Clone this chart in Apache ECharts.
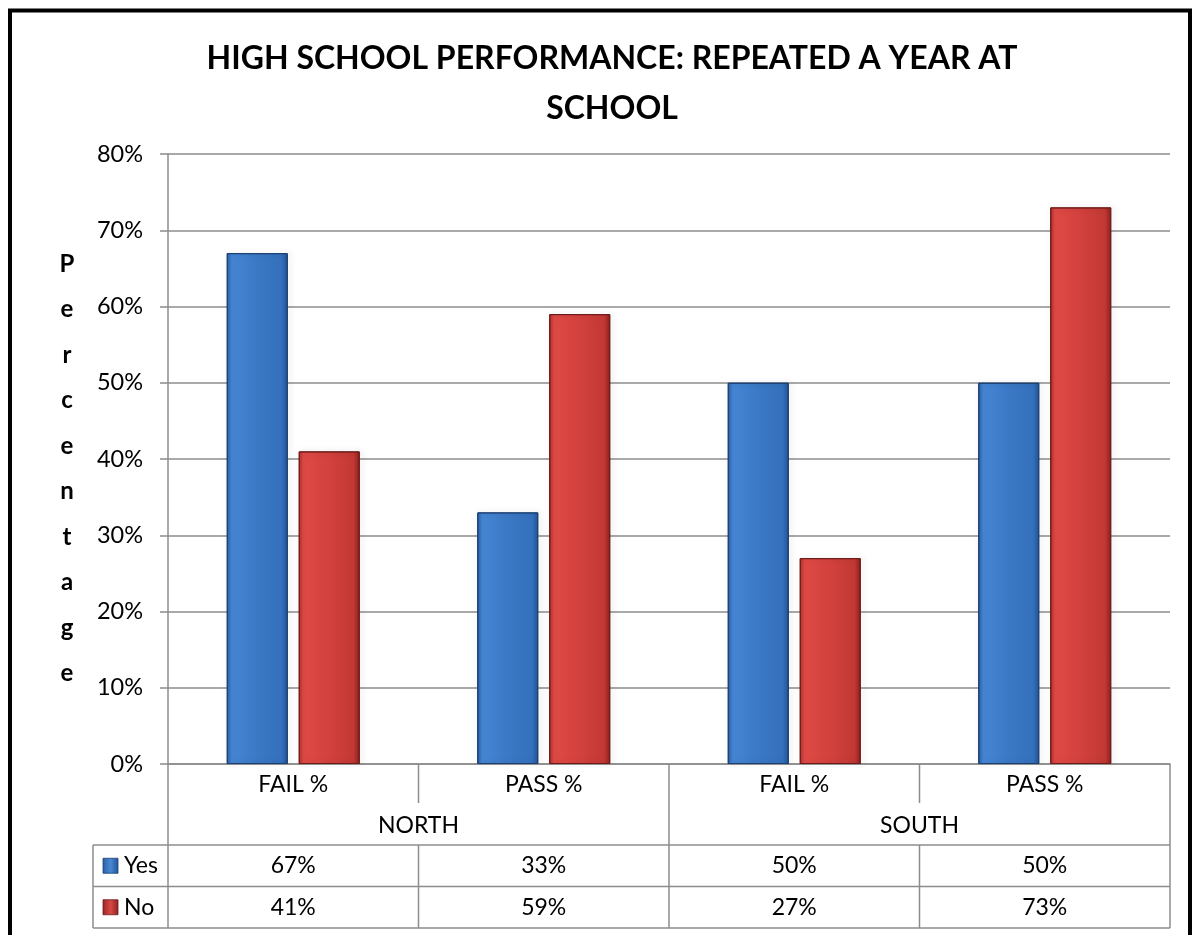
<!DOCTYPE html>
<html>
<head>
<meta charset="utf-8">
<style>
  html, body { margin: 0; padding: 0; background: #fff; }
  #chart { width: 1197px; height: 935px; }
</style>
<script src="https://cdn.jsdelivr.net/npm/echarts@6/dist/echarts.min.js"></script>
</head>
<body>
<div id="chart"></div>
<script>
// Chart data
const categories = ['FAIL %', 'PASS %', 'FAIL %', 'PASS %'];
const groups = ['NORTH', 'SOUTH'];
const yesValues = [67, 33, 50, 50];
const noValues = [41, 59, 27, 73];
const seriesNames = ['Yes', 'No'];
const titleText = 'HIGH SCHOOL PERFORMANCE: REPEATED A YEAR AT\nSCHOOL';
const axisTitle = 'Percentage';

const FONT = 'Lato, "Open Sans", sans-serif';
const LINE = '#8c8c8c';

function hGrad(stops) {
  return new echarts.graphic.LinearGradient(0, 0, 1, 0,
    stops.map(s => ({ offset: s[0], color: s[1] })));
}
const blueFill = hGrad([[0, '#2a60a8'], [0.08, '#4586d4'], [0.5, '#3b78c5'], [0.9, '#3470bb'], [1, '#23559a']]);
const redFill = hGrad([[0, '#b2302c'], [0.08, '#e04a46'], [0.5, '#d2413d'], [0.9, '#c23834'], [1, '#8c2220']]);

const chart = echarts.init(document.getElementById('chart'), null, { renderer: 'canvas' });

const option = {
  backgroundColor: '#fff',
  animation: false,
  title: {
    text: titleText,
    left: 607,
    textAlign: 'center',
    top: 29,
    textStyle: { fontFamily: FONT, fontWeight: 'bold', fontSize: 32, color: '#000', lineHeight: 50 }
  },
  grid: { left: 168, right: 27, top: 154, bottom: 171, containLabel: false },
  xAxis: {
    type: 'category',
    data: categories,
    axisLine: { show: true, lineStyle: { color: LINE, width: 1.5 } },
    axisTick: { show: false },
    axisLabel: { show: false },
    splitLine: { show: false }
  },
  yAxis: {
    type: 'value',
    min: 0, max: 80, interval: 10,
    axisLine: { show: true, lineStyle: { color: LINE, width: 1.5 } },
    axisTick: { show: true, length: 8, lineStyle: { color: LINE, width: 1.5 } },
    axisLabel: { formatter: '{value}%', fontFamily: FONT, fontSize: 23.5, color: '#000', margin: 25 },
    splitLine: { show: true, lineStyle: { color: LINE, width: 1.5 } }
  },
  series: [
    {
      name: seriesNames[0], type: 'bar', data: yesValues,
      barWidth: 61, barGap: '18%',
      itemStyle: { color: blueFill, borderColor: '#1b3f72', borderWidth: 1,
        shadowColor: 'rgba(0,0,0,0.18)', shadowBlur: 6, shadowOffsetX: 2 }
    },
    {
      name: seriesNames[1], type: 'bar', data: noValues,
      barWidth: 61,
      itemStyle: { color: redFill, borderColor: '#6e1a18', borderWidth: 1,
        shadowColor: 'rgba(0,0,0,0.18)', shadowBlur: 6, shadowOffsetX: 2 }
    }
  ]
};
chart.setOption(option);

// Data table under the plot, laid out from the axis scales
function buildTable() {
  const px = i => chart.convertToPixel({ xAxisIndex: 0 }, i);
  const py = v => chart.convertToPixel({ yAxisIndex: 0 }, v);
  const step = px(1) - px(0);
  const left = px(0) - step / 2;
  const right = px(categories.length - 1) + step / 2;
  const yTop = py(0);
  const catRowH = 39, groupRowBottom = yTop + 81, rowH = 41.5;
  const tableLeft = 93;
  const rowY = [groupRowBottom, groupRowBottom + rowH, groupRowBottom + 2 * rowH];
  const els = [];
  const ls = { stroke: LINE, lineWidth: 1.5 };
  const line = (x1, y1, x2, y2) => els.push({ type: 'line', shape: { x1, y1, x2, y2 }, style: ls, silent: true });
  const text = (x, y, s, extra) => els.push({ type: 'text', x, y, silent: true,
    style: Object.assign({ text: s, fontFamily: FONT, fontSize: 23, fill: '#000', align: 'center', verticalAlign: 'middle' }, extra || {}) });

  // horizontal rules
  rowY.forEach(y => line(tableLeft, y, right, y));
  // vertical rules
  line(tableLeft, rowY[0], tableLeft, rowY[2]);
  line(left, yTop, left, rowY[2]);
  line(right, yTop, right, rowY[2]);
  for (let i = 1; i < categories.length; i++) {
    const xb = left + i * step;
    if (i % 2 === 0) {
      line(xb, yTop, xb, rowY[2]);
    } else {
      line(xb, yTop, xb, yTop + catRowH);
      line(xb, rowY[0], xb, rowY[2]);
    }
  }
  // category labels and group labels
  categories.forEach((c, i) => text(px(i), yTop + 21, c));
  groups.forEach((g, j) => text(left + (2 * j + 1) * step, yTop + 62, g));
  // value rows
  [yesValues, noValues].forEach((vals, r) => {
    const cy = rowY[r] + rowH / 2;
    vals.forEach((v, i) => text(px(i), cy, v + '%'));
    const fill = r === 0 ? hGrad([[0, '#2a60a8'], [0.5, '#4a88d2'], [1, '#23559a']])
                         : hGrad([[0, '#9a2624'], [0.5, '#d84844'], [1, '#8c2220']]);
    els.push({ type: 'rect', shape: { x: 103, y: cy - 7.5, width: 15, height: 15 },
      style: { fill, stroke: r === 0 ? '#1b3f72' : '#6e1a18', lineWidth: 0.8 }, silent: true });
    text(124, cy, seriesNames[r], { align: 'left' });
  });

  // vertical axis title, one letter per line
  els.push({ type: 'text', x: 67, y: (py(0) + py(80)) / 2 + 10, silent: true,
    style: { text: axisTitle.split('').join('\n'), fontFamily: FONT, fontWeight: 'bold', fontSize: 24,
      lineHeight: 45.5, fill: '#000', align: 'center', verticalAlign: 'middle' } });

  // chart frame
  els.push({ type: 'rect', shape: { x: 10, y: 10.5, width: 1180, height: 1000 },
    style: { fill: 'none', stroke: '#000', lineWidth: 4 }, silent: true });

  chart.setOption({ graphic: { elements: els } });
}
buildTable();
</script>
</body>
</html>
